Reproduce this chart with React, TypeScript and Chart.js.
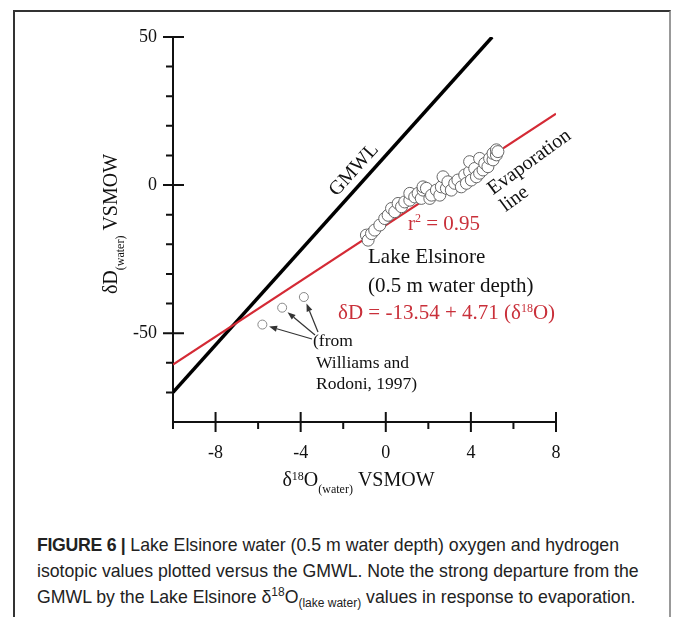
import React, { useEffect, useRef } from 'react';
import { Chart, registerables } from 'chart.js';
Chart.register(...registerables);

const GMWL_X = [-10, 5];
const GMWL_Y = [-70, 50];
const EVAP_X = [-10, 8];
const EVAP_Y = [-60.6, 24.1];
const LAKE_X = [-0.91, -0.83, -0.67, -0.52, -0.28, -0.05, 0.11, 0.27, 0.42, 0.58, 0.74, 0.89, 1.13, 1.13, 1.36, 1.52, 1.67, 1.75, 1.75, 1.91, 2.07, 2.15, 2.38, 2.54, 2.61, 2.69, 2.85, 2.92, 3.08, 3.24, 3.39, 3.55, 3.71, 3.79, 3.94, 3.94, 4.02, 4.18, 4.26, 4.41, 4.41, 4.57, 4.65, 4.8, 4.88, 5.04, 5.04, 5.2, 5.2, 5.27];
const LAKE_Y = [-16.9, -18.6, -16.4, -15.2, -13.5, -11.3, -10.2, -7.9, -9.0, -6.2, -7.3, -5.7, -5.1, -2.8, -4.0, -2.8, -4.5, -1.7, -0.6, -1.1, -4.5, -3.4, -1.7, -3.4, -0.6, 2.8, -1.1, 1.1, -1.7, 0.6, 1.7, -0.6, 3.4, 0.6, 4.5, 7.9, 1.7, 5.6, 2.8, 4.0, 9.0, 5.1, 7.3, 6.2, 9.0, 8.5, 10.7, 10.2, 11.9, 11.3];
const WR_X = [-5.8, -4.87, -3.85];
const WR_Y = [-47.1, -41.4, -37.8];
const X_MAJOR = [-8, -4, 0, 4, 8];
const X_MINOR = [-10, -6, -2, 2, 6];
const Y_MAJOR = [-50, 0, 50];
const Y_MINOR = [-70, -60, -40, -30, -20, -10, 10, 20, 30, 40];
const X_MIN = -10, X_MAX = 8, Y_MIN = -80, Y_MAX = 50;

const SERIF = '"Liberation Serif", "Times New Roman", serif';
const RED = '#c9303a';

type Run = { t: string; size: number; dy: number };

function drawRuns(ctx: CanvasRenderingContext2D, runs: Run[], x: number, y: number, align: 'left' | 'center') {
  let w = 0;
  for (const r of runs) {
    ctx.font = `${r.size}px ${SERIF}`;
    w += ctx.measureText(r.t).width;
  }
  let cx = align === 'center' ? x - w / 2 : x;
  ctx.textAlign = 'left';
  ctx.textBaseline = 'alphabetic';
  for (const r of runs) {
    ctx.font = `${r.size}px ${SERIF}`;
    ctx.fillText(r.t, cx, y + r.dy);
    cx += ctx.measureText(r.t).width;
  }
}

function arrow(ctx: CanvasRenderingContext2D, fx: number, fy: number, tx: number, ty: number) {
  const a = Math.atan2(ty - fy, tx - fx);
  const L = 8, W = 3;
  const bx = tx - L * Math.cos(a), by = ty - L * Math.sin(a);
  ctx.beginPath();
  ctx.moveTo(fx, fy);
  ctx.lineTo(bx, by);
  ctx.stroke();
  ctx.beginPath();
  ctx.moveTo(tx, ty);
  ctx.lineTo(bx + W * Math.sin(a), by - W * Math.cos(a));
  ctx.lineTo(bx - W * Math.sin(a), by + W * Math.cos(a));
  ctx.closePath();
  ctx.fill();
}

const axesPlugin = {
  id: 'customAxes',
  beforeDatasetsDraw(chart: any) {
    const ctx: CanvasRenderingContext2D = chart.ctx;
    const xs = chart.scales.x, ys = chart.scales.y;
    const x0 = xs.getPixelForValue(X_MIN), x1 = xs.getPixelForValue(X_MAX);
    const yb = ys.getPixelForValue(Y_MIN), yt = ys.getPixelForValue(Y_MAX);
    ctx.save();
    ctx.strokeStyle = '#111';
    ctx.lineWidth = 2;
    ctx.beginPath();
    ctx.moveTo(x0, yt);
    ctx.lineTo(x0, yb);
    ctx.lineTo(x1, yb);
    ctx.stroke();
    ctx.beginPath();
    for (const v of Y_MAJOR) {
      const p = ys.getPixelForValue(v);
      ctx.moveTo(x0 - 10, p); ctx.lineTo(x0 + 11, p);
    }
    for (const v of Y_MINOR) {
      const p = ys.getPixelForValue(v);
      ctx.moveTo(x0 - 7, p); ctx.lineTo(x0, p);
    }
    for (const v of X_MAJOR) {
      const p = xs.getPixelForValue(v);
      ctx.moveTo(p, yb - 10); ctx.lineTo(p, yb + 10);
    }
    for (const v of X_MINOR) {
      const p = xs.getPixelForValue(v);
      ctx.moveTo(p, yb); ctx.lineTo(p, yb + 7);
    }
    ctx.stroke();
    ctx.fillStyle = '#111';
    ctx.font = `18px ${SERIF}`;
    ctx.textAlign = 'right';
    ctx.textBaseline = 'middle';
    for (const v of Y_MAJOR) ctx.fillText(String(v), x0 - 16, ys.getPixelForValue(v));
    ctx.textAlign = 'center';
    ctx.textBaseline = 'alphabetic';
    for (const v of X_MAJOR) ctx.fillText(String(v), xs.getPixelForValue(v), yb + 36);
    // axis titles
    drawRuns(ctx, [
      { t: 'δ', size: 20, dy: 0 },
      { t: '18', size: 12, dy: -6 },
      { t: 'O', size: 20, dy: 0 },
      { t: '(water)', size: 12, dy: 7 },
      { t: ' VSMOW', size: 20, dy: 0 },
    ], (x0 + x1) / 2 - 6, yb + 64, 'center');
    ctx.save();
    ctx.translate(117, 224);
    ctx.rotate(-Math.PI / 2);
    drawRuns(ctx, [
      { t: 'δD', size: 20, dy: 0 },
      { t: '(water)', size: 12, dy: 7 },
      { t: ' VSMOW', size: 20, dy: 0 },
    ], 0, 0, 'center');
    ctx.restore();
    ctx.restore();
  },
  afterDraw(chart: any) {
    const ctx: CanvasRenderingContext2D = chart.ctx;
    const xs = chart.scales.x, ys = chart.scales.y;
    ctx.save();
    // GMWL label
    const ang = Math.atan2(
      ys.getPixelForValue(GMWL_Y[1]) - ys.getPixelForValue(GMWL_Y[0]),
      xs.getPixelForValue(GMWL_X[1]) - xs.getPixelForValue(GMWL_X[0])
    );
    ctx.fillStyle = '#111';
    ctx.save();
    ctx.translate(354, 170);
    ctx.rotate(ang);
    ctx.font = `20px ${SERIF}`;
    ctx.textAlign = 'center';
    ctx.textBaseline = 'middle';
    ctx.fillText('GMWL', 0, 0);
    ctx.restore();
    // Evaporation line
    ctx.save();
    ctx.translate(490, 191);
    ctx.rotate(-36 * Math.PI / 180);
    ctx.font = `20px ${SERIF}`;
    ctx.textAlign = 'left';
    ctx.textBaseline = 'middle';
    ctx.fillText('Evaporation', 0, 0);
    ctx.fillText('line', 0, 21);
    ctx.restore();
    // r2
    ctx.fillStyle = RED;
    drawRuns(ctx, [
      { t: 'r', size: 21, dy: 0 },
      { t: '2', size: 12, dy: -8 },
      { t: ' = 0.95', size: 21, dy: 0 },
    ], 408, 230, 'left');
    ctx.fillStyle = '#111';
    ctx.font = `21px ${SERIF}`;
    ctx.textAlign = 'left';
    ctx.textBaseline = 'alphabetic';
    ctx.fillText('Lake Elsinore', 368, 263);
    ctx.fillText('(0.5 m water depth)', 368, 292);
    ctx.fillStyle = RED;
    drawRuns(ctx, [
      { t: 'δD = -13.54 + 4.71 (δ', size: 21, dy: 0 },
      { t: '18', size: 12, dy: -7 },
      { t: 'O)', size: 21, dy: 0 },
    ], 338, 319, 'left');
    ctx.fillStyle = '#111';
    ctx.font = `17.5px ${SERIF}`;
    ctx.textAlign = 'left';
    ctx.fillText('(from', 313, 346);
    ctx.fillText('Williams and', 316, 368);
    ctx.fillText('Rodoni, 1997)', 316, 389);
    // arrows
    ctx.strokeStyle = '#333';
    ctx.fillStyle = '#333';
    ctx.lineWidth = 1.2;
    const tails = [[312, 339], [315, 335], [318, 332]];
    for (let i = 0; i < WR_X.length; i++) {
      const cx = xs.getPixelForValue(WR_X[i]);
      const cy = ys.getPixelForValue(WR_Y[i]);
      const [fx, fy] = tails[i];
      const a = Math.atan2(fy - cy, fx - cx);
      const r = 7;
      arrow(ctx, fx, fy, cx + r * Math.cos(a), cy + r * Math.sin(a));
    }
    ctx.restore();
  },
};

export default function App() {
  const ref = useRef<HTMLCanvasElement>(null);
  useEffect(() => {
    document.body.style.margin = '0';
    document.body.style.overflow = 'hidden';
    const canvas = ref.current!;
    const chart = new Chart(canvas, {
      type: 'scatter',
      data: {
        datasets: [
          {
            label: 'Lake Elsinore',
            data: LAKE_X.map((x, i) => ({ x, y: LAKE_Y[i] })),
            pointRadius: 6,
            pointBackgroundColor: '#ffffff',
            pointBorderColor: '#666666',
            pointBorderWidth: 1,
            showLine: false,
          } as any,
          {
            label: 'Williams and Rodoni, 1997',
            data: WR_X.map((x, i) => ({ x, y: WR_Y[i] })),
            pointRadius: 4.5,
            pointBackgroundColor: '#ffffff',
            pointBorderColor: '#888888',
            pointBorderWidth: 1,
            showLine: false,
          } as any,
          {
            label: 'Evaporation line',
            data: EVAP_X.map((x, i) => ({ x, y: EVAP_Y[i] })),
            showLine: true,
            borderColor: '#d42a35',
            borderWidth: 2,
            pointRadius: 0,
          } as any,
          {
            label: 'GMWL',
            data: GMWL_X.map((x, i) => ({ x, y: GMWL_Y[i] })),
            showLine: true,
            borderColor: '#000000',
            borderWidth: 3.5,
            pointRadius: 0,
          } as any,
        ],
      },
      options: {
        animation: false,
        responsive: false,
        devicePixelRatio: 1,
        layout: { padding: { left: 173, right: 117, top: 37, bottom: 88 } },
        plugins: { legend: { display: false }, tooltip: { enabled: false } },
        scales: {
          x: { type: 'linear', min: X_MIN, max: X_MAX, display: false },
          y: { type: 'linear', min: Y_MIN, max: Y_MAX, display: false },
        },
      },
      plugins: [axesPlugin],
    });
    return () => chart.destroy();
  }, []);

  const sup: React.CSSProperties = { fontSize: '12px', verticalAlign: '7px', lineHeight: 0 };
  const sub: React.CSSProperties = { fontSize: '12px', verticalAlign: '-4px', lineHeight: 0 };
  return (
    <div style={{ position: 'absolute', left: 0, top: 0, width: 673, height: 617, overflow: 'hidden', background: '#fff' }}>
      <div style={{ position: 'absolute', left: 13, top: 10, width: 658, height: 607, boxSizing: 'border-box', borderLeft: '2px solid #333', borderTop: '2px solid #333', borderRight: '2px solid #999' }} />
      <canvas ref={ref} width={673} height={510} style={{ position: 'absolute', left: 0, top: 0, width: 673, height: 510 }} />
      <div style={{ position: 'absolute', left: 37, top: 532, whiteSpace: 'nowrap', font: '17.7px "Liberation Sans", Arial, sans-serif', lineHeight: '26px', color: '#222' }}>
        <b style={{ letterSpacing: '-0.3px' }}>FIGURE 6 |</b> Lake Elsinore water (0.5 m water depth) oxygen and hydrogen<br />
        isotopic values plotted versus the GMWL. Note the strong departure from the<br />
        GMWL by the Lake Elsinore δ<span style={sup}>18</span>O<span style={sub}>(lake water)</span> values in response to evaporation.
      </div>
    </div>
  );
}
